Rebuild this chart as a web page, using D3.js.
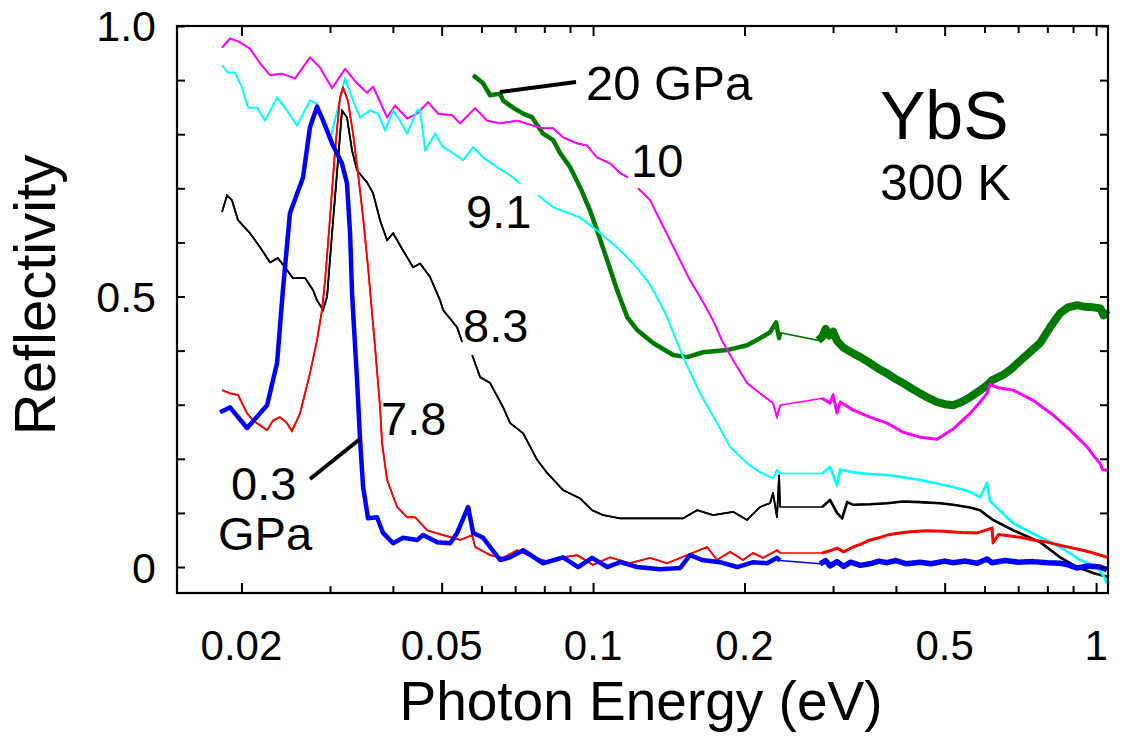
<!DOCTYPE html>
<html><head><meta charset="utf-8">
<script src="https://cdn.jsdelivr.net/npm/d3@7/dist/d3.min.js"></script>
<style>
body{margin:0;background:#fff;}
svg{display:block;}
text{font-family:"Liberation Sans",Arial,Helvetica,sans-serif;fill:#000;}
</style></head>
<body>
<svg id="chart" width="1129" height="740"></svg>
<script>
// ---------- data (photon energy eV, reflectivity) ----------
const xMajorTicks = [0.02, 0.05, 0.1, 0.2, 0.5, 1];
const xMajorLabels = ["0.02", "0.05", "0.1", "0.2", "0.5", "1"];
const xMinorTicks = [0.03, 0.04, 0.06, 0.07, 0.08, 0.09, 0.3, 0.4, 0.6, 0.7, 0.8, 0.9];
const yTicks = [0, 0.1, 0.2, 0.3, 0.4, 0.5, 0.6, 0.7, 0.8, 0.9, 1.0];
const yTickLabels = {"0": "0", "0.5": "0.5", "1": "1.0"};

const seriesNames = ["0.3 GPa", "7.8 GPa", "8.3 GPa", "9.1 GPa", "10 GPa", "20 GPa"];

const p03 = [
 [0.01813,0.286],[0.01898,0.295],[0.02052,0.257],[0.02249,0.299],[0.02354,0.377],[0.02418,0.512],
 [0.02497,0.654],[0.02651,0.72],[0.02737,0.813],[0.02826,0.851],[0.02906,0.825],[0.03028,0.783],
 [0.03169,0.746],[0.03242,0.709],[0.03288,0.617],[0.03318,0.506],[0.03395,0.345],[0.03442,0.235],
 [0.0349,0.148],[0.0357,0.090],[0.0372,0.092],[0.03824,0.063],[0.04004,0.044],[0.04191,0.054],
 [0.04469,0.050],[0.04594,0.059],[0.04898,0.046],[0.05198,0.044],[0.05367,0.063],[0.05644,0.111],
 [0.05776,0.063],[0.06046,0.054],[0.06535,0.013],[0.06841,0.018],[0.07262,0.031],[0.07957,0.007],
 [0.0872,0.018],[0.09338,0.0],[0.09954,0.017],[0.1067,0.0],[0.1132,0.009],[0.1224,0.0],
 [0.1359,-0.004],[0.1489,-0.002],[0.1559,0.022],[0.1647,0.013],[0.1788,0.009],[0.1934,0.0],
 [0.2081,0.009],[0.2218,0.007],[0.2321,0.017],[0.2354,0.012],
 [0.2827,0.006],[0.29,0.012],[0.2959,0.002],[0.3055,0.010],[0.315,0.001],[0.325,0.009],[0.34,0.003],
 [0.3553,0.006],[0.37,0.011],[0.3841,0.008],[0.40,0.012],[0.42,0.006],[0.4467,0.009],[0.47,0.006],
 [0.50,0.011],[0.5196,0.008],[0.55,0.011],[0.58,0.007],[0.6071,0.015],[0.62,0.008],[0.66,0.012],
 [0.70,0.009],[0.7495,0.010],[0.80,0.008],[0.848,0.007],[0.88,0.004],[0.9166,-0.002],[0.96,0.002],
 [1.018,0.0],[1.05,-0.005]
];

const p78 = [
 [0.0183,0.327],[0.01898,0.321],[0.01969,0.318],[0.02052,0.284],[0.02109,0.271],[0.02249,0.253],
 [0.02312,0.271],[0.02385,0.277],[0.02463,0.266],[0.0252,0.251],[0.02615,0.284],[0.02737,0.358],
 [0.02826,0.419],[0.02892,0.475],[0.02933,0.53],[0.03,0.646],[0.0307,0.77],[0.0314,0.868],
 [0.03184,0.886],[0.03256,0.862],[0.03334,0.80],[0.0341,0.728],[0.0349,0.646],[0.0357,0.554],
 [0.03618,0.493],[0.03687,0.406],[0.03772,0.295],[0.03807,0.229],[0.03895,0.161],[0.04078,0.111],
 [0.04269,0.092],[0.04429,0.092],[0.04679,0.068],[0.05034,0.059],[0.05442,0.05],[0.0575,0.059],
 [0.0583,0.037],[0.06243,0.022],[0.06626,0.017],[0.07064,0.031],[0.07601,0.018],[0.08216,0.009],
 [0.0872,0.018],[0.09298,0.022],[0.1,0.004],[0.1081,0.018],[0.1185,0.007],[0.1298,0.017],
 [0.1403,0.007],[0.1538,0.022],[0.1685,0.037],[0.1764,0.013],[0.1873,0.028],[0.1987,0.013],
 [0.2081,0.026],[0.2178,0.017],[0.2321,0.031],[0.2354,0.026],
 [0.2853,0.026],[0.2959,0.030],[0.3055,0.035],[0.315,0.028],[0.3288,0.037],[0.34,0.042],[0.3553,0.05],
 [0.37,0.054],[0.3841,0.059],[0.40,0.062],[0.4267,0.065],[0.46,0.067],[0.4964,0.066],[0.54,0.064],
 [0.58,0.063],[0.6212,0.072],[0.624,0.045],[0.64,0.060],[0.67,0.058],[0.7061,0.055],[0.75,0.050],
 [0.7989,0.046],[0.85,0.040],[0.90,0.035],[0.95,0.030],[0.9864,0.026],[1.02,0.022],[1.05,0.018]
];

const p83 = [
 [0.0183,0.656],[0.01872,0.687],[0.01915,0.678],[0.01969,0.641],[0.0208,0.617],[0.02178,0.591],
 [0.0228,0.563],[0.02363,0.571],[0.0244,0.554],[0.02532,0.534],[0.02676,0.534],[0.02775,0.512],
 [0.02826,0.493],[0.02906,0.475],[0.0296,0.50],[0.03028,0.617],[0.03097,0.728],[0.03169,0.844],
 [0.03242,0.831],[0.03318,0.770],[0.03395,0.733],[0.03554,0.711],[0.03653,0.691],[0.03772,0.641],
 [0.03895,0.604],[0.04004,0.617],[0.04191,0.585],[0.04388,0.554],[0.04531,0.561],[0.04743,0.536],
 [0.04965,0.493],[0.05034,0.475],[0.05367,0.443],[0.05492,0.416],[0.0562,null],
 [0.0575,0.392],[0.05963,0.351],[0.06243,0.340],[0.06626,0.295],[0.06841,0.266],[0.07262,0.247],
 [0.07741,0.198],[0.08104,0.174],[0.0872,0.142],[0.09423,0.127],[0.09954,0.105],[0.1047,0.096],
 [0.1132,0.090],[0.1316,0.090],[0.151,0.090],[0.161,0.105],[0.1732,0.096],[0.1899,0.102],
 [0.2024,0.087],[0.2148,0.111],[0.2248,0.118],[0.2279,0.137],[0.2321,0.092],[0.2343,0.17],[0.2354,0.111],
 [0.2853,0.111],[0.2959,0.124],[0.3055,0.10],[0.3127,0.09],[0.32,0.12],[0.3288,0.115],[0.3553,0.116],
 [0.3841,0.118],[0.4133,0.121],[0.4467,0.120],[0.4896,0.118],[0.5196,0.115],[0.5617,0.110],
 [0.5879,0.105],[0.6071,0.095],[0.624,0.087],[0.6839,0.068],[0.7738,0.046],[0.848,0.018],
 [0.9166,0.0],[0.9864,-0.011],[1.05,-0.018]
];

const p91 = [
 [0.0183,0.927],[0.0188,0.914],[0.01942,0.914],[0.02005,0.886],[0.02062,0.849],[0.02148,0.849],
 [0.02229,0.825],[0.02354,0.868],[0.02463,0.844],[0.02578,0.816],[0.02737,0.862],[0.02826,0.857],
 [0.03,0.789],[0.03213,0.903],[0.03334,0.862],[0.03442,0.831],[0.03603,0.844],[0.03737,0.838],
 [0.0386,0.807],[0.04004,0.844],[0.04134,0.825],[0.04269,0.801],[0.04469,0.844],[0.04531,0.844],
 [0.04637,0.770],[0.04854,0.801],[0.05034,0.776],[0.05246,0.766],[0.05518,0.752],[0.05776,0.776],
 [0.06046,0.757],[0.06447,0.739],[0.06841,0.724],[0.07162,0.709],[0.0745,null],
 [0.07776,0.687],[0.0833,0.665],[0.09423,0.646],[0.1018,0.622],[0.1116,0.591],[0.1202,0.561],
 [0.128,0.530],[0.1316,0.512],[0.1359,0.488],[0.1403,0.462],[0.151,0.388],[0.1632,0.321],
 [0.1764,0.266],[0.1873,0.222],[0.2024,0.192],[0.2148,0.175],[0.2279,0.164],[0.2321,0.179],[0.2354,0.173],
 [0.2853,0.173],[0.2959,0.185],[0.3055,0.151],[0.31,0.18],[0.3288,0.175],[0.3553,0.172],[0.3841,0.170],
 [0.4133,0.166],[0.4467,0.161],[0.4896,0.153],[0.5196,0.148],[0.5617,0.139],[0.5879,0.129],
 [0.6071,0.155],[0.615,0.122],[0.6839,0.081],[0.7738,0.055],[0.848,0.037],[0.9294,0.013],
 [1.0046,0.0],[1.04,-0.02],[1.05,-0.03]
];

const p10 = [
 [0.0183,0.960],[0.01898,0.977],[0.01987,0.970],[0.0208,0.958],[0.02178,0.931],[0.0228,0.909],
 [0.02407,0.912],[0.02555,0.903],[0.02737,0.942],[0.02866,0.923],[0.03028,0.885],[0.03213,0.921],
 [0.03395,0.894],[0.03554,0.877],[0.03653,0.888],[0.03895,0.831],[0.04041,0.853],[0.04269,0.829],
 [0.04469,0.838],[0.04699,0.859],[0.04919,0.838],[0.05246,0.835],[0.05442,0.820],[0.0583,0.848],
 [0.06157,0.825],[0.06535,0.820],[0.07064,0.825],[0.07601,0.816],[0.07957,0.811],[0.0833,0.811],
 [0.0872,0.794],[0.09298,0.783],[0.0973,0.779],[0.1018,0.757],[0.1081,0.746],[0.1132,0.728],
 [0.1174,0.720],[0.12,null],
 [0.1229,0.70],[0.1298,0.678],[0.1359,0.641],[0.1423,0.604],[0.1489,0.567],[0.1559,0.530],
 [0.1647,0.493],[0.1732,0.456],[0.1804,0.419],[0.1899,0.382],[0.2024,0.340],[0.2148,0.321],
 [0.2279,0.303],[0.2321,0.277],[0.2354,0.299],
 [0.2853,0.312],[0.2959,0.303],[0.30,0.318],[0.3055,0.285],[0.31,0.305],[0.3288,0.29],[0.3553,0.277],
 [0.3841,0.266],[0.4133,0.249],[0.4467,0.240],[0.483,0.236],[0.5196,0.255],[0.5617,0.284],
 [0.5879,0.305],[0.6071,0.321],[0.615,0.338],[0.6355,0.332],[0.6839,0.327],[0.7495,0.308],
 [0.8213,0.281],[0.8877,0.253],[0.9597,0.222],[0.99,0.205],[1.018,0.192],[1.03,0.18],[1.05,0.179]
];

const p20 = [
 [0.05776,0.909],[0.06046,0.894],[0.06243,0.872],[0.06535,0.875],[0.06626,0.862],[0.06936,0.849],
 [0.07262,0.838],[0.07566,0.831],[0.07957,0.801],[0.0833,0.789],[0.086,0.765],[0.09004,0.739],
 [0.09423,0.702],[0.09863,0.659],[0.1023,0.617],[0.1067,0.567],[0.1116,0.512],[0.1169,0.462],
 [0.1224,0.438],[0.1316,0.414],[0.1443,0.392],[0.1538,0.388],[0.1655,0.397],[0.1847,0.401],
 [0.2024,0.410],[0.2148,0.423],[0.2248,0.434],[0.2311,0.452],[0.2343,0.423],[0.2354,0.433],
 [0.2801,0.419],[0.2853,0.425],[0.29,0.44],[0.295,0.428],[0.30,0.435],[0.3055,0.418],[0.3141,0.406],
 [0.3288,0.395],[0.34,0.388],[0.3553,0.377],[0.37,0.366],[0.3841,0.358],[0.40,0.347],[0.4133,0.340],
 [0.43,0.330],[0.4467,0.321],[0.465,0.312],[0.483,0.305],[0.50,0.301],[0.5196,0.299],[0.54,0.305],
 [0.5617,0.314],[0.585,0.325],[0.6071,0.336],[0.62,0.345],[0.6533,0.355],[0.68,0.367],[0.7061,0.381],
 [0.74,0.398],[0.7738,0.414],[0.81,0.443],[0.848,0.469],[0.88,0.480],[0.9166,0.484],[0.95,0.481],
 [0.9864,0.480],[1.02,0.478],[1.035,0.465],[1.05,0.475]
];

// ---------- drawing ----------
const svg = d3.select("#chart");
const L = 177, R = 1108, T = 26, B = 593;
const x = d3.scaleLog().domain([0.01489, 1.056]).range([L, R]);
const y = d3.scaleLinear().domain([-0.048, 1.0]).range([B, T]);

const styles = [
  {data: p20, color: "#007a00", w: 4.5, wn: 8},
  {data: p10, color: "#ff00ff", w: 1.8, wn: 3},
  {data: p83, color: "#000000", w: 1.8, wn: 2.6},
  {data: p91, color: "#00ffff", w: 1.8, wn: 2.6},
  {data: p78, color: "#ff0000", w: 1.8, wn: 3},
  {data: p03, color: "#0000ff", w: 4.5, wn: 5.5}
];

const line = d3.line().defined(d => d[1] !== null).x(d => x(d[0])).y(d => y(d[1]));
const plot = svg.append("g");
styles.forEach(s => {
  plot.append("path").attr("d", line(s.data)).attr("fill", "none")
      .attr("stroke", s.color).attr("stroke-width", 1.6);
  plot.append("path").attr("d", line(s.data.filter(d => d[0] <= 0.236))).attr("fill", "none")
      .attr("stroke", s.color).attr("stroke-width", s.w).attr("stroke-linejoin", "round");
  plot.append("path").attr("d", line(s.data.filter(d => d[0] >= 0.28))).attr("fill", "none")
      .attr("stroke", s.color).attr("stroke-width", s.wn).attr("stroke-linejoin", "round");
});

// frame
svg.append("rect").attr("x", L).attr("y", T).attr("width", R - L).attr("height", B - T)
   .attr("fill", "none").attr("stroke", "#000").attr("stroke-width", 2.2);

function styleAxis(g){ g.select(".domain").remove(); g.selectAll("text").remove();
  g.selectAll("line").attr("stroke", "#000").attr("stroke-width", 2); }
svg.append("g").attr("transform", `translate(0,${B})`)
   .call(d3.axisBottom(x).tickValues(xMajorTicks).tickSize(-10)).call(styleAxis);
svg.append("g").attr("transform", `translate(0,${B})`)
   .call(d3.axisBottom(x).tickValues(xMinorTicks).tickSize(-7)).call(styleAxis);
svg.append("g").attr("transform", `translate(0,${T})`)
   .call(d3.axisTop(x).tickValues(xMajorTicks).tickSize(-10)).call(styleAxis);
svg.append("g").attr("transform", `translate(0,${T})`)
   .call(d3.axisTop(x).tickValues(xMinorTicks).tickSize(-7)).call(styleAxis);
svg.append("g").attr("transform", `translate(${L},0)`)
   .call(d3.axisLeft(y).tickValues(yTicks).tickSize(-8)).call(styleAxis);
svg.append("g").attr("transform", `translate(${R},0)`)
   .call(d3.axisRight(y).tickValues(yTicks).tickSize(-8)).call(styleAxis);

// tick labels
xMajorTicks.forEach((v, i) => {
  svg.append("text").attr("x", x(v)).attr("y", 660).attr("text-anchor", "middle")
     .attr("font-size", 42).text(xMajorLabels[i]);
});
yTicks.forEach(v => {
  const key = String(+v.toFixed(1));
  if (yTickLabels[key] !== undefined) {
    svg.append("text").attr("x", 156).attr("y", y(v)).attr("dy", "0.36em")
       .attr("text-anchor", "end").attr("font-size", 43).text(yTickLabels[key]);
  }
});

// axis titles
svg.append("text").attr("x", 641).attr("y", 720).attr("text-anchor", "middle")
   .attr("font-size", 55).text("Photon Energy (eV)");
svg.append("text").attr("transform", "translate(55,295) rotate(-90)").attr("text-anchor", "middle")
   .attr("font-size", 58).text("Reflectivity");

// sample / temperature
svg.append("text").attr("x", 880).attr("y", 139).attr("font-size", 68).text("YbS");
svg.append("text").attr("x", 880).attr("y", 200).attr("font-size", 50).text("300 K");

// pressure labels
const ann = [
  {t: "20 GPa", x: 586, y: 100, s: 49},
  {t: "10", x: 631, y: 177, s: 47},
  {t: "9.1", x: 466, y: 228, s: 47},
  {t: "8.3", x: 463, y: 342, s: 47},
  {t: "7.8", x: 381, y: 435, s: 47},
  {t: "0.3", x: 231, y: 500, s: 47},
  {t: "GPa", x: 218, y: 550, s: 47}
];
ann.forEach(a => svg.append("text").attr("x", a.x).attr("y", a.y).attr("font-size", a.s).text(a.t));
// leader lines
svg.append("line").attr("x1", 310).attr("y1", 479).attr("x2", 360).attr("y2", 439)
   .attr("stroke", "#000").attr("stroke-width", 4);
svg.append("line").attr("x1", 500).attr("y1", 92).attr("x2", 576).attr("y2", 82)
   .attr("stroke", "#000").attr("stroke-width", 4);
</script>
</body></html>
